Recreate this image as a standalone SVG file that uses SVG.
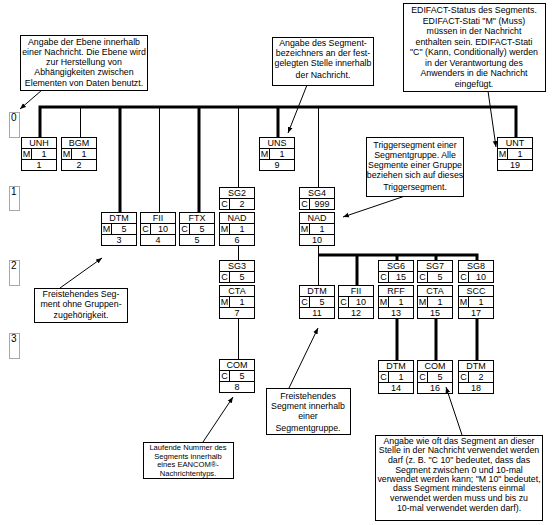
<svg xmlns="http://www.w3.org/2000/svg" xmlns:xlink="http://www.w3.org/1999/xlink" width="555" height="525" viewBox="0 0 555 525">
<style>
.bx{fill:#fff;stroke:#000;stroke-width:1}
.ln{stroke:#000;stroke-width:1;fill:none}
.tk{stroke:#000;stroke-width:3;fill:none}
.nt{font-family:"Liberation Sans",Arial,sans-serif;font-size:9px;fill:#000;text-anchor:middle}
.at{font-family:"Liberation Sans",Arial,sans-serif;font-size:8.8px;fill:#000;text-anchor:middle}
.sm{font-size:7.6px}
.lv{fill:#fff;stroke:#a8a8a8;stroke-width:1}
.lt{font-family:"Liberation Sans",Arial,sans-serif;font-size:10px;fill:#000}
.ar{stroke:#000;stroke-width:1;fill:none;marker-end:url(#ah)}
</style>
<defs>
<marker id="ah" viewBox="0 0 10 10" refX="10" refY="5" markerWidth="6" markerHeight="6" orient="auto" markerUnits="userSpaceOnUse"><path d="M0,1 L10,5 L0,9 z" fill="#000"/></marker>
<g id="seg"><rect class="bx" x="0.5" y="0.5" width="35" height="33"/><path class="ln" d="M0.5,11.5 H35.5 M0.5,22.5 H35.5 M10.5,11.5 V22.5"/></g>
<g id="sg"><rect class="bx" x="0.5" y="0.5" width="35" height="22"/><path class="ln" d="M0.5,11.5 H35.5 M10.5,11.5 V22.5"/></g>
</defs>
<rect width="555" height="525" fill="#fff"/>

<g id="levels">
<rect class="lv" x="9.5" y="112.5" width="10" height="25"/><text class="lt" x="11" y="121">0</text>
<rect class="lv" x="9.5" y="186.5" width="10" height="24"/><text class="lt" x="11" y="195">1</text>
<rect class="lv" x="9.5" y="260.5" width="10" height="25"/><text class="lt" x="11" y="269">2</text>
<rect class="lv" x="9.5" y="333.5" width="10" height="25"/><text class="lt" x="11" y="342">3</text>
</g>

<g id="connectors">
<path class="tk" d="M40,137 V107 H516 V137"/>
<path class="tk" d="M120,107 V212 M199,107 V212 M278,107 V137"/>
<path class="ln" d="M80.5,107 V137 M159.5,107 V212 M238.5,107 V187 M318.5,107 V187"/>
<path class="ln" d="M238.5,245 V260 M238.5,318 V359 M318.5,245 V285"/>
<path class="tk" d="M318,255 H477 V260 M357,255 V285 M397,255 V260 M436,255 V260"/>
<path class="tk" d="M397,318 V360 M436,318 V360 M477,318 V360"/>
</g>

<g id="n-UNH" transform="translate(21,137)"><use href="#seg"/><text class="nt" x="18" y="9">UNH</text><text class="nt" x="5.5" y="20">M</text><text class="nt" x="23" y="20">1</text><text class="nt" x="18" y="31">1</text></g>
<g id="n-BGM" transform="translate(61,137)"><use href="#seg"/><text class="nt" x="18" y="9">BGM</text><text class="nt" x="5.5" y="20">M</text><text class="nt" x="23" y="20">1</text><text class="nt" x="18" y="31">2</text></g>
<g id="n-UNS" transform="translate(259,137)"><use href="#seg"/><text class="nt" x="18" y="9">UNS</text><text class="nt" x="5.5" y="20">M</text><text class="nt" x="23" y="20">1</text><text class="nt" x="18" y="31">9</text></g>
<g id="n-UNT" transform="translate(497,137)"><use href="#seg"/><text class="nt" x="18" y="9">UNT</text><text class="nt" x="5.5" y="20">M</text><text class="nt" x="23" y="20">1</text><text class="nt" x="18" y="31">19</text></g>

<g id="n-DTM3" transform="translate(101,212)"><use href="#seg"/><text class="nt" x="18" y="9">DTM</text><text class="nt" x="5.5" y="20">M</text><text class="nt" x="23" y="20">5</text><text class="nt" x="18" y="31">3</text></g>
<g id="n-FII4" transform="translate(140,212)"><use href="#seg"/><text class="nt" x="18" y="9">FII</text><text class="nt" x="5.5" y="20">C</text><text class="nt" x="23" y="20">10</text><text class="nt" x="18" y="31">4</text></g>
<g id="n-FTX5" transform="translate(179,212)"><use href="#seg"/><text class="nt" x="18" y="9">FTX</text><text class="nt" x="5.5" y="20">C</text><text class="nt" x="23" y="20">5</text><text class="nt" x="18" y="31">5</text></g>
<g id="n-SG2" transform="translate(219,187)"><use href="#sg"/><text class="nt" x="18" y="9">SG2</text><text class="nt" x="5.5" y="20">C</text><text class="nt" x="23" y="20">2</text></g>
<g id="n-NAD6" transform="translate(219,212)"><use href="#seg"/><text class="nt" x="18" y="9">NAD</text><text class="nt" x="5.5" y="20">M</text><text class="nt" x="23" y="20">1</text><text class="nt" x="18" y="31">6</text></g>
<g id="n-SG4" transform="translate(299,187)"><use href="#sg"/><text class="nt" x="18" y="9">SG4</text><text class="nt" x="5.5" y="20">C</text><text class="nt" x="23" y="20">999</text></g>
<g id="n-NAD10" transform="translate(299,212)"><use href="#seg"/><text class="nt" x="18" y="9">NAD</text><text class="nt" x="5.5" y="20">M</text><text class="nt" x="23" y="20">1</text><text class="nt" x="18" y="31">10</text></g>

<g id="n-SG3" transform="translate(219,260)"><use href="#sg"/><text class="nt" x="18" y="9">SG3</text><text class="nt" x="5.5" y="20">C</text><text class="nt" x="23" y="20">5</text></g>
<g id="n-CTA7" transform="translate(219,285)"><use href="#seg"/><text class="nt" x="18" y="9">CTA</text><text class="nt" x="5.5" y="20">M</text><text class="nt" x="23" y="20">1</text><text class="nt" x="18" y="31">7</text></g>
<g id="n-COM8" transform="translate(219,359)"><use href="#seg"/><text class="nt" x="18" y="9">COM</text><text class="nt" x="5.5" y="20">C</text><text class="nt" x="23" y="20">5</text><text class="nt" x="18" y="31">8</text></g>
<g id="n-DTM11" transform="translate(299,285)"><use href="#seg"/><text class="nt" x="18" y="9">DTM</text><text class="nt" x="5.5" y="20">C</text><text class="nt" x="23" y="20">5</text><text class="nt" x="18" y="31">11</text></g>
<g id="n-FII12" transform="translate(338,285)"><use href="#seg"/><text class="nt" x="18" y="9">FII</text><text class="nt" x="5.5" y="20">C</text><text class="nt" x="23" y="20">10</text><text class="nt" x="18" y="31">12</text></g>
<g id="n-SG6" transform="translate(378,260)"><use href="#sg"/><text class="nt" x="18" y="9">SG6</text><text class="nt" x="5.5" y="20">C</text><text class="nt" x="23" y="20">15</text></g>
<g id="n-RFF13" transform="translate(378,285)"><use href="#seg"/><text class="nt" x="18" y="9">RFF</text><text class="nt" x="5.5" y="20">M</text><text class="nt" x="23" y="20">1</text><text class="nt" x="18" y="31">13</text></g>
<g id="n-SG7" transform="translate(417,260)"><use href="#sg"/><text class="nt" x="18" y="9">SG7</text><text class="nt" x="5.5" y="20">C</text><text class="nt" x="23" y="20">5</text></g>
<g id="n-CTA15" transform="translate(417,285)"><use href="#seg"/><text class="nt" x="18" y="9">CTA</text><text class="nt" x="5.5" y="20">M</text><text class="nt" x="23" y="20">1</text><text class="nt" x="18" y="31">15</text></g>
<g id="n-SG8" transform="translate(458,260)"><use href="#sg"/><text class="nt" x="18" y="9">SG8</text><text class="nt" x="5.5" y="20">C</text><text class="nt" x="23" y="20">10</text></g>
<g id="n-SCC17" transform="translate(458,285)"><use href="#seg"/><text class="nt" x="18" y="9">SCC</text><text class="nt" x="5.5" y="20">M</text><text class="nt" x="23" y="20">1</text><text class="nt" x="18" y="31">17</text></g>
<g id="n-DTM14" transform="translate(378,360)"><use href="#seg"/><text class="nt" x="18" y="9">DTM</text><text class="nt" x="5.5" y="20">C</text><text class="nt" x="23" y="20">1</text><text class="nt" x="18" y="31">14</text></g>
<g id="n-COM16" transform="translate(417,360)"><use href="#seg"/><text class="nt" x="18" y="9">COM</text><text class="nt" x="5.5" y="20">C</text><text class="nt" x="23" y="20">5</text><text class="nt" x="18" y="31">16</text></g>
<g id="n-DTM18" transform="translate(458,360)"><use href="#seg"/><text class="nt" x="18" y="9">DTM</text><text class="nt" x="5.5" y="20">C</text><text class="nt" x="23" y="20">2</text><text class="nt" x="18" y="31">18</text></g>

<g id="annotation-arrows">
<path class="ar" d="M42,90 L20,109"/>
<path class="ar" d="M307,85 L288,133"/>
<path class="ar" d="M488,91 L496,147"/>
<path class="ar" d="M405,196 L343,217"/>
<path class="ar" d="M60,288 L102,258"/>
<path class="ar" d="M289,388 L318,328"/>
<path class="ar" d="M203,442 L233,397"/>
<path class="ar" d="M462,435 L446,387"/>
</g>

<g id="a-ebene"><rect class="bx" x="20.5" y="35.5" width="127" height="55"/>
<text class="at" x="84" y="45">Angabe der Ebene innerhalb</text>
<text class="at" x="84" y="55">einer Nachricht. Die Ebene wird</text>
<text class="at" x="84" y="65">zur Herstellung von</text>
<text class="at" x="84" y="75">Abhängigkeiten zwischen</text>
<text class="at" x="84" y="86">Elementen von Daten benutzt.</text></g>

<g id="a-bezeichner"><rect class="bx" x="272.5" y="37.5" width="101" height="48"/>
<text class="at" x="323" y="46">Angabe des Segment-</text>
<text class="at" x="323" y="56">bezeichners an der fest-</text>
<text class="at" x="323" y="66">gelegten Stelle innerhalb</text>
<text class="at" x="323" y="78">der Nachricht.</text></g>

<g id="a-status"><rect class="bx" x="403.5" y="3.5" width="142" height="88"/>
<text class="at" x="474" y="13">EDIFACT-Status des Segments.</text>
<text class="at" x="474" y="23.5">EDIFACT-Stati "M" (Muss)</text>
<text class="at" x="474" y="34">müssen in der Nachricht</text>
<text class="at" x="474" y="44.5">enthalten sein. EDIFACT-Stati</text>
<text class="at" x="474" y="55">"C" (Kann, Conditionally) werden</text>
<text class="at" x="474" y="65.5">in der Verantwortung des</text>
<text class="at" x="474" y="76">Anwenders in die Nachricht</text>
<text class="at" x="474" y="87">eingefügt.</text></g>

<g id="a-trigger"><rect class="bx" x="366.5" y="137.5" width="97" height="59"/>
<text class="at" x="415" y="148">Triggersegment einer</text>
<text class="at" x="415" y="158">Segmentgruppe. Alle</text>
<text class="at" x="415" y="168">Segmente einer Gruppe</text>
<text class="at" x="415" y="178">beziehen sich auf dieses</text>
<text class="at" x="415" y="190">Triggersegment.</text></g>

<g id="a-frei1"><rect class="bx" x="34.5" y="288.5" width="93" height="34"/>
<text class="at" x="81" y="297">Freistehendes Seg-</text>
<text class="at" x="81" y="307">ment ohne Gruppen-</text>
<text class="at" x="81" y="318">zugehörigkeit.</text></g>

<g id="a-frei2"><rect class="bx" x="266.5" y="388.5" width="84" height="46"/>
<text class="at" x="308" y="399">Freistehendes</text>
<text class="at" x="308" y="409">Segment innerhalb</text>
<text class="at" x="308" y="419">einer</text>
<text class="at" x="308" y="431">Segmentgruppe.</text></g>

<g id="a-nummer"><rect class="bx" x="143.5" y="442.5" width="90" height="36"/>
<text class="at sm" x="188" y="450">Laufende Nummer des</text>
<text class="at sm" x="188" y="458.5">Segments innerhalb</text>
<text class="at sm" x="188" y="467">eines EANCOM®-</text>
<text class="at sm" x="188" y="475.5">Nachrichtentyps.</text></g>

<g id="a-anzahl"><rect class="bx" x="375.5" y="435.5" width="167" height="85"/>
<text class="at" x="459" y="443.5">Angabe wie oft das Segment an dieser</text>
<text class="at" x="459" y="453">Stelle in der Nachricht verwendet werden</text>
<text class="at" x="459" y="463">darf (z. B. "C 10" bedeutet, dass das</text>
<text class="at" x="459" y="472.5">Segment zwischen 0 und 10-mal</text>
<text class="at" x="459" y="481.5">verwendet werden kann; "M 10" bedeutet,</text>
<text class="at" x="459" y="491">dass Segment mindestens einmal</text>
<text class="at" x="459" y="500.5">verwendet werden muss und bis zu</text>
<text class="at" x="459" y="511">10-mal verwendet werden darf).</text></g>
</svg>
